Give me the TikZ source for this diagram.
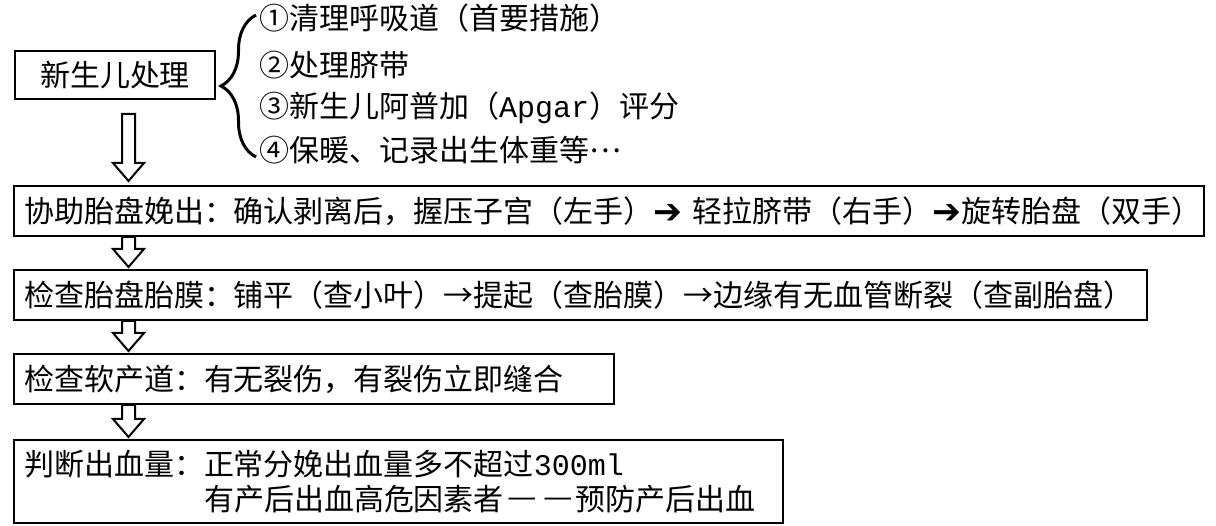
\documentclass[tikz,border=0pt]{standalone}
\usepackage{fontspec}
\setmainfont{Noto Sans CJK SC}
\setmonofont{Liberation Mono}
\newfontfamily\arrowfont{DejaVu Sans}
\usetikzlibrary{calc,decorations.pathreplacing}

\tikzset{
    stepbox/.style={draw, line width=2pt, anchor=north west, inner xsep=10pt, inner ysep=0pt,
        text width=#1, minimum height=50pt, align=left, font=\fontsize{30}{35}\selectfont},
    headbox/.style={draw, line width=2pt, minimum width=200pt, minimum height=48pt, inner sep=0pt,
        font=\fontsize{30}{35}\selectfont},
    item/.style={anchor=west, inner sep=0pt, font=\fontsize{30}{35}\selectfont},
    hollow/.style={draw, line width=2pt, fill=white, line join=miter}
}
\newcommand{\heavyarr}{\raisebox{-0.05em}{\scalebox{1.15}{\arrowfont ➔}}}
\newcommand{\dashpart}{\makebox[1.2em]{\raisebox{0.1em}{\scalebox{1.1}[1]{—}}}}
% hollow down arrow from node #1 to node #2, gaps #3 and #4
\newcommand{\hollowarrow}[4]{%
    \path ($(#1.south -| ax)+(0,#3)$) coordinate (ha-s)
          ($(#2.north -| ax)+(0,-#4)$) coordinate (ha-e);
    \draw[hollow] ($(ha-s)+(-6.5,0)$) -- ($(ha-e)+(-6.5,-18)$) -- ($(ha-e)+(-15.5,-18)$) -- (ha-e)
        -- ($(ha-e)+(15.5,-18)$) -- ($(ha-e)+(6.5,-18)$) -- ($(ha-s)+(6.5,0)$) -- cycle;}

\begin{document}
\begin{tikzpicture}[x=1pt, y=-1pt]
    \fill[white] (0,0) rectangle (1216,526);
    \useasboundingbox (0,0) rectangle (1216,526);

    % Newborn box and its list
    \node[headbox] (newborn) at (115,75) {新生儿处理};
    \node[item] (item1) at (259,18) {①清理呼吸道（首要措施）};
    \node[item] (item2) at (259,65) {②处理脐带};
    \node[item] (item3) at (259,108) {③新生儿阿普加（\texttt{Apgar}）评分};
    \node[item] (item4) at (259,150) {④保暖、记录出生体重等\raisebox{0.3em}{…}};

    % Brace
    \draw[line width=3pt, decorate, decoration={brace, amplitude=35pt}] (256,157) -- (256,15);

    % Steps
    \node[stepbox=1170pt] (placenta) at (13,185)
        {协助胎盘娩出：确认剥离后，握压子宫（左手）\heavyarr{} 轻拉脐带（右手）\heavyarr 旋转胎盘（双手）};
    \node[stepbox=1113pt] (membrane) at (13,269)
        {检查胎盘胎膜：铺平（查小叶）→提起（查胎膜）→边缘有无血管断裂（查副胎盘）};
    \node[stepbox=580pt] (canal) at (13,353)
        {检查软产道：有无裂伤，有裂伤立即缝合};
    \node[stepbox=749pt, minimum height=83pt] (blood) at (13,439)
        {判断出血量：正常分娩出血量多不超过\texttt{300ml}\\
         \hspace*{6em}有产后出血高危因素者\dashpart\dashpart 预防产后出血};

    % Hollow arrows
    \coordinate (ax) at ($(newborn.south)+(13.5,0)$);
    \hollowarrow{newborn}{placenta}{14}{4}
    \hollowarrow{placenta}{membrane}{0}{2}
    \hollowarrow{membrane}{canal}{0}{2}
    \hollowarrow{canal}{blood}{0}{2}
\end{tikzpicture}
\end{document}
